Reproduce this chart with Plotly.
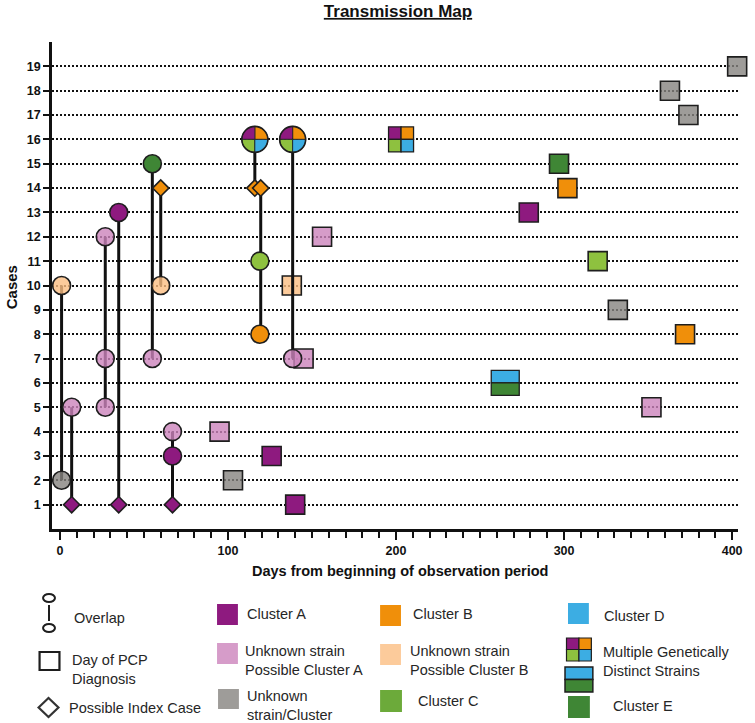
import math
import plotly.graph_objects as go

# ---------------- data ----------------
y_ticks = list(range(1, 20))
x_ticks = [0, 100, 200, 300, 400]

# overlap circles (day, case)
circ_peach_x = [1, 60];            circ_peach_y = [10, 10]
circ_grey_x = [1];                 circ_grey_y = [2]
circ_pink_x = [7, 27, 27, 27, 55, 67, 138.5]
circ_pink_y = [5, 12, 7, 5, 7, 4, 7]
circ_purple_x = [35, 67];          circ_purple_y = [13, 3]
circ_darkgreen_x = [55];           circ_darkgreen_y = [15]
circ_green_x = [119];              circ_green_y = [11]
circ_orange_x = [119];             circ_orange_y = [8]
circ_multi_x = [116, 138.5];       circ_multi_y = [16, 16]

# possible index cases (diamonds)
diam_purple_x = [7, 35, 67];       diam_purple_y = [1, 1, 1]
diam_orange_x = [60, 116, 119.5];  diam_orange_y = [14, 14, 14]

# day of PCP diagnosis (squares)
sq_purple_x = [140, 126, 279];     sq_purple_y = [1, 3, 13]
sq_pink_x = [95, 145, 156, 352];   sq_pink_y = [4, 7, 12, 5]
sq_grey_x = [103, 332, 363, 374, 403]
sq_grey_y = [2, 9, 18, 17, 19]
sq_peach_x = [138];                sq_peach_y = [10]
sq_orange_x = [302, 372];          sq_orange_y = [14, 8]
sq_green_x = [320];                sq_green_y = [11]
sq_darkgreen_x = [297];            sq_darkgreen_y = [15]
sq_multi4_x = [203];               sq_multi4_y = [16]
sq_multi2_x = [265];               sq_multi2_y = [6]

# overlap links (vertical lines)
link_x = [1, 7, 27, 35, 55, 60, 67, 116, 119.5, 138.5]
link_top = [10, 5, 12, 13, 15, 14, 4, 16, 14, 16]
link_bottom = [2, 1, 5, 1, 7, 10, 1, 14, 8, 7]

legend_labels = ["Overlap", "Day of PCP<br>Diagnosis", "Possible Index Case",
                 "Cluster A", "Unknown strain<br>Possible Cluster A", "Unknown<br>strain/Cluster",
                 "Cluster B", "Unknown strain<br>Possible Cluster B", "Cluster C",
                 "Cluster D", "Multiple Genetically<br>Distinct Strains", "Cluster E"]

# ---------------- styles ----------------
PURPLE = "#8E1A7F"
PINK = "#D69CC9"
GREY = "#9E9C99"
ORANGE = "#F08F0A"
PEACH = "#FCCB9B"
GREEN = "#8EC13F"
BLUE = "#3CADE3"
DKGREEN = "#3F8635"
# translucent versions of the light colours (look the same on white)
PINK_T = "rgba(204,131,188,0.8)"
PEACH_T = "rgba(251,190,130,0.8)"
GREY_T = "rgba(134,131,128,0.8)"
OUT = "#1E1E1E"
FONT = "Liberation Sans, Arial, sans-serif"

W, H = 755, 723
L, R, T, B = 52, 13, 42, 194
PW = W - L - R
PH = H - T - B


def px(x):
    return (x - L) / PW


def py(y):
    return (H - B - y) / PH


fig = go.Figure()


def markers(xs, ys, symbol, size, color):
    fig.add_trace(go.Scatter(
        x=xs, y=ys, mode="markers", cliponaxis=False, hoverinfo="skip",
        showlegend=False,
        marker=dict(symbol=symbol, size=size, color=color,
                    line=dict(color=OUT, width=1.6))))


# squares
for xs, ys, c in [(sq_purple_x, sq_purple_y, PURPLE), (sq_pink_x, sq_pink_y, PINK_T),
                  (sq_grey_x, sq_grey_y, GREY_T), (sq_peach_x, sq_peach_y, PEACH_T),
                  (sq_orange_x, sq_orange_y, ORANGE), (sq_green_x, sq_green_y, GREEN),
                  (sq_darkgreen_x, sq_darkgreen_y, DKGREEN)]:
    markers(xs, ys, "square", 19, c)

# links
lx, ly = [], []
for x, a, b in zip(link_x, link_top, link_bottom):
    lx += [x, x, None]
    ly += [a, b, None]
fig.add_trace(go.Scatter(x=lx, y=ly, mode="lines", hoverinfo="skip", showlegend=False,
                         line=dict(color="#111111", width=3)))

# circles
for xs, ys, c in [(circ_peach_x, circ_peach_y, PEACH_T), (circ_grey_x, circ_grey_y, GREY_T),
                  (circ_pink_x, circ_pink_y, PINK_T), (circ_purple_x, circ_purple_y, PURPLE),
                  (circ_darkgreen_x, circ_darkgreen_y, DKGREEN),
                  (circ_green_x, circ_green_y, GREEN), (circ_orange_x, circ_orange_y, ORANGE)]:
    markers(xs, ys, "circle", 18, c)

# diamonds
markers(diam_purple_x, diam_purple_y, "diamond", 12.5, PURPLE)
markers(diam_orange_x, diam_orange_y, "diamond", 12.5, ORANGE)

shapes = []


def sector(r, a0, a1, n=16):
    pts = ["M0,0"]
    for i in range(n + 1):
        a = math.radians(a0 + (a1 - a0) * i / n)
        pts.append(f"L{r * math.cos(a):.2f},{r * math.sin(a):.2f}")
    return " ".join(pts) + " Z"


# multi-strain circles
for x, y in zip(circ_multi_x, circ_multi_y):
    r = 13
    for a0, a1, c in [(0, 90, ORANGE), (90, 180, PURPLE), (180, 270, GREEN), (270, 360, BLUE)]:
        shapes.append(dict(type="path", xref="x", yref="y", xsizemode="pixel",
                           ysizemode="pixel", xanchor=x, yanchor=y, path=sector(r, a0, a1),
                           fillcolor=c, line=dict(color=OUT, width=0.8), layer="above"))
    shapes.append(dict(type="circle", xref="x", yref="y", xsizemode="pixel",
                       ysizemode="pixel", xanchor=x, yanchor=y, x0=-r, x1=r, y0=-r, y1=r,
                       line=dict(color=OUT, width=1.6), layer="above"))

# multi-strain squares (4 quadrants)
for x, y in zip(sq_multi4_x, sq_multi4_y):
    s = 12.5
    for x0, x1, y0, y1, c in [(-s, 0, 0, s, PURPLE), (0, s, 0, s, ORANGE),
                              (-s, 0, -s, 0, GREEN), (0, s, -s, 0, BLUE)]:
        shapes.append(dict(type="rect", xref="x", yref="y", xsizemode="pixel",
                           ysizemode="pixel", xanchor=x, yanchor=y, x0=x0, x1=x1,
                           y0=y0, y1=y1, fillcolor=c, line=dict(color=OUT, width=1.3),
                           layer="above"))

# two-strain squares
for x, y in zip(sq_multi2_x, sq_multi2_y):
    for y0, y1, c in [(0, 12.5, BLUE), (-12.5, 0, DKGREEN)]:
        shapes.append(dict(type="rect", xref="x", yref="y", xsizemode="pixel",
                           ysizemode="pixel", xanchor=x, yanchor=y, x0=-14, x1=14,
                           y0=y0, y1=y1, fillcolor=c, line=dict(color=OUT, width=1.3),
                           layer="above"))

# ---------------- custom legend ----------------


def prect(x0, y0, x1, y1, fill, lw=0, lc=OUT, typ="rect"):
    shapes.append(dict(type=typ, xref="paper", yref="paper", x0=px(x0), x1=px(x1),
                       y0=py(y1), y1=py(y0), fillcolor=fill,
                       line=dict(color=lc, width=lw)))


# overlap icon
prect(43, 594, 55, 602, "rgba(0,0,0,0)", 2, typ="circle")
prect(43, 624, 55, 632, "rgba(0,0,0,0)", 2, typ="circle")
shapes.append(dict(type="line", xref="paper", yref="paper", x0=px(49), x1=px(49),
                   y0=py(605), y1=py(621), line=dict(color=OUT, width=2)))
# square icon
prect(39.5, 652, 59.5, 670, "rgba(0,0,0,0)", 2.2)
# diamond icon
shapes.append(dict(type="path", xref="paper", yref="paper",
                   path=f"M{px(38.5)},{py(707.5)} L{px(48.5)},{py(698)} L{px(58.5)},{py(707.5)} "
                        f"L{px(48.5)},{py(717)} Z",
                   fillcolor="rgba(0,0,0,0)", line=dict(color="#333333", width=2.2)))
# colour swatches
prect(218, 604, 239, 625, PURPLE)
prect(218, 643, 239, 664, PINK)
prect(219, 689, 240, 709, GREY)
prect(382, 605, 403, 626, ORANGE)
prect(382, 644, 403, 665, PEACH)
prect(382, 690, 404, 712, "#6CAA3A")
prect(571, 603, 592, 624, BLUE)
prect(571, 696, 593, 718, DKGREEN)
# multi swatches
prect(569.5, 638, 582, 649.5, PURPLE, 1.2)
prect(582, 638, 594.5, 649.5, ORANGE, 1.2)
prect(569.5, 649.5, 582, 661, GREEN, 1.2)
prect(582, 649.5, 594.5, 661, BLUE, 1.2)
prect(568, 667, 596, 679.5, BLUE, 1.5)
prect(568, 679.5, 596, 692, DKGREEN, 1.5)

legend_pos = [(72, 618), (70, 669.5), (67, 708),
              (246, 614), (244, 660), (246, 705),
              (413, 614), (410, 660), (418, 701),
              (605, 616), (604, 661), (614, 706)]

annotations = []
for (lx_, ly_), txt in zip(legend_pos, legend_labels):
    annotations.append(dict(text=txt, xref="paper", yref="paper", x=px(lx_), y=py(ly_),
                            xanchor="left", yanchor="middle", showarrow=False, align="left",
                            font=dict(family=FONT, size=14.5, color="#262626")))

annotations.append(dict(text="<b>Days from beginning of observation period</b>",
                        xref="paper", yref="paper", x=px(402), y=py(571),
                        xanchor="center", yanchor="middle", showarrow=False,
                        font=dict(family=FONT, size=14.5, color="#111111")))
annotations.append(dict(text="<b>Cases</b>", xref="paper", yref="paper", x=px(11),
                        y=py(287), xanchor="center", yanchor="middle", showarrow=False,
                        textangle=-90, font=dict(family=FONT, size=15, color="#111111")))

fig.update_layout(
    width=W, height=H, margin=dict(l=L, r=R, t=T, b=B),
    paper_bgcolor="white", plot_bgcolor="white",
    title=dict(text="<b>Transmission Map</b>", x=(398) / W, xanchor="center",
               y=1 - 11 / H, yanchor="middle", yref="container",
               font=dict(family=FONT, size=17, color="#111111", lineposition="under")),
    shapes=shapes, annotations=annotations, showlegend=False,
    xaxis=dict(range=[-4.7, 403.5], tickvals=x_ticks, showgrid=False, zeroline=False,
               showline=True, linewidth=2.5, linecolor="#111111", ticks="outside",
               ticklen=8, tickwidth=2, tickcolor="#111111",
               minor=dict(dtick=10, tick0=0, ticks="outside", ticklen=6, tickwidth=2,
                          tickcolor="#111111", showgrid=False),
               tickfont=dict(family=FONT, size=12.5, color="#111111", weight="bold")),
    yaxis=dict(range=[0, 20], tickvals=y_ticks, showgrid=True, gridcolor="#111111",
               griddash="2px,2px", gridwidth=1.6, zeroline=False, showline=True,
               linewidth=2.5, linecolor="#111111", ticks="outside", ticklen=6, tickwidth=2,
               tickcolor="#111111",
               tickfont=dict(family=FONT, size=12.5, color="#111111", weight="bold")),
)

fig.write_html("out.html", config={"displayModeBar": False},
               post_script="document.body.style.margin='0px';")
